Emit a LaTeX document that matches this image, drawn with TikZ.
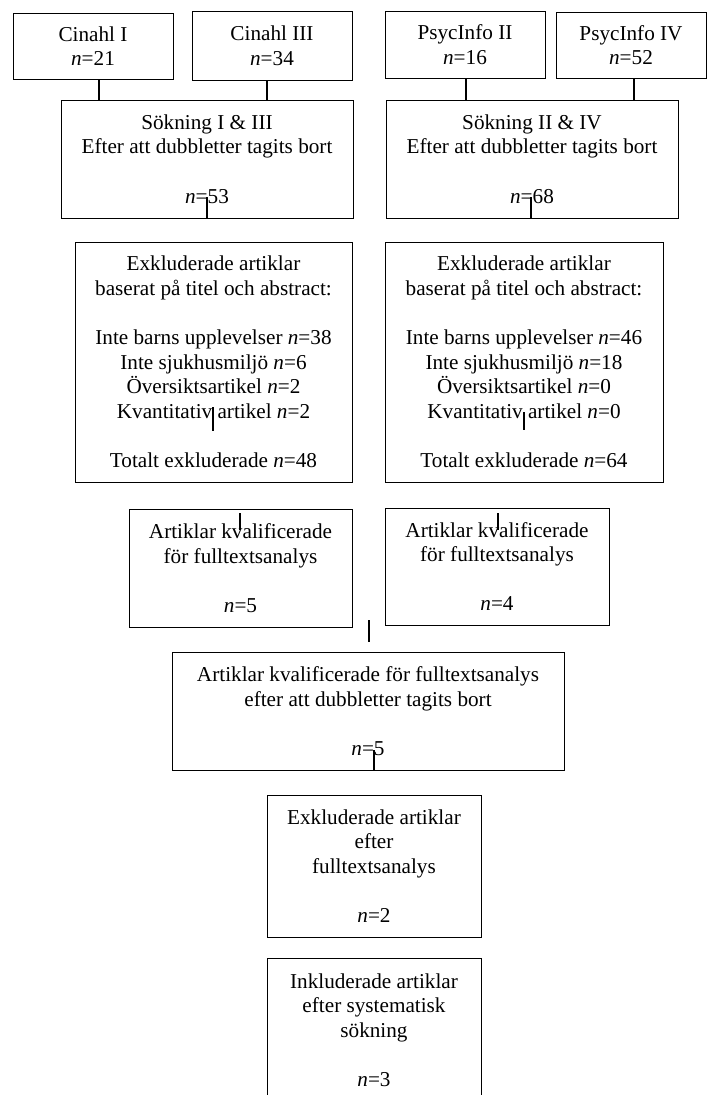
\documentclass[tikz,border=0pt]{standalone}
\usepackage{fontspec}
\setmainfont{Liberation Serif}
\usetikzlibrary{positioning, calc}

\begin{document}
\begin{tikzpicture}[x=1pt, y=1pt, node distance=179pt, auto, font=\fontsize{21.2}{24.6}\selectfont]
        % Define block styles
        \tikzstyle{block} = [rectangle, draw, line width=0.9pt, fill=white, align=center, inner sep=0pt]
        \tikzstyle{link} = [line width=1.8pt]

        \useasboundingbox (0,0) rectangle (707,-1095);

        % Place nodes
        \node [block, minimum width=160pt, minimum height=66pt] (cinahl1) at (93,-46) {Cinahl I\\\textit{n}=21};
        \node [block, minimum width=160pt, minimum height=69pt, right of=cinahl1, yshift=0.5pt] (cinahl3) {Cinahl III\\\textit{n}=34};
        \node [block, minimum width=160pt, minimum height=67pt, right of=cinahl3, xshift=14pt, yshift=1pt] (psyc2) {PsycInfo II\\\textit{n}=16};
        \node [block, minimum width=150pt, minimum height=66pt, right of=psyc2, xshift=-13pt, yshift=-0.5pt] (psyc4) {PsycInfo IV\\\textit{n}=52};
        \node [block, minimum width=292pt, minimum height=118pt, below of=cinahl1, xshift=114pt, yshift=66pt] (sok13) {S\"okning I \& III\\Efter att dubbletter tagits bort\\[24.6pt]\textit{n}=53};
        \node [block, minimum width=292pt, minimum height=118pt, right of=sok13, xshift=146pt] (sok24) {S\"okning II \& IV\\Efter att dubbletter tagits bort\\[24.6pt]\textit{n}=68};
        \node [block, minimum width=277pt, minimum height=240pt, below of=sok13, xshift=6.5pt, yshift=-24pt] (excl1) {Exkluderade artiklar\\baserat på titel och abstract:\\[24.6pt]Inte barns upplevelser \textit{n}=38\\Inte sjukhusmiljö \textit{n}=6\\Översiktsartikel \textit{n}=2\\Kvantitativ artikel \textit{n}=2\\[24.6pt]Totalt exkluderade \textit{n}=48};
        \node [block, minimum width=278pt, minimum height=240pt, right of=excl1, xshift=131.5pt] (excl2) {Exkluderade artiklar\\baserat på titel och abstract:\\[24.6pt]Inte barns upplevelser \textit{n}=46\\Inte sjukhusmiljö \textit{n}=18\\Översiktsartikel \textit{n}=0\\Kvantitativ artikel \textit{n}=0\\[24.6pt]Totalt exkluderade \textit{n}=64};
        \node [block, minimum width=223pt, minimum height=118pt, below of=excl1, xshift=27pt, yshift=-27pt] (kval1) {Artiklar kvalificerade\\för fulltextsanalys\\[24.6pt]\textit{n}=5};
        \node [block, minimum width=224pt, minimum height=117pt, right of=kval1, xshift=77.5pt, yshift=1.5pt] (kval2) {Artiklar kvalificerade\\för fulltextsanalys\\[24.6pt]\textit{n}=4};
        \node [block, minimum width=392pt, minimum height=118pt, below of=kval1, xshift=127.5pt, yshift=36pt] (kvalall) {Artiklar kvalificerade för fulltextsanalys\\efter att dubbletter tagits bort\\[24.6pt]\textit{n}=5};
        \node [block, minimum width=214pt, minimum height=142pt, below of=kvalall, xshift=6pt, yshift=24pt] (exclfull) {Exkluderade artiklar\\efter\\fulltextsanalys\\[24.6pt]\textit{n}=2};
        \node [block, minimum width=214pt, minimum height=144pt, below of=exclfull, yshift=15pt] (incl) {Inkluderade artiklar\\efter systematisk\\sökning\\[24.6pt]\textit{n}=3};

        % Draw connections
        \draw [link] ([xshift=6pt]cinahl1.south) -- ([xshift=6pt]cinahl1.south |- sok13.north);
        \draw [link] ([xshift=-5pt]cinahl3.south) -- ([xshift=-5pt]cinahl3.south |- sok13.north);
        \draw [link] ([xshift=1pt]psyc2.south) -- ([xshift=1pt]psyc2.south |- sok24.north);
        \draw [link] ([xshift=3pt]psyc4.south) -- ([xshift=3pt]psyc4.south |- sok24.north);

        % Leftover pieces of lines
        \coordinate (cut13) at (207,-197);
        \coordinate (cut24a) at (531,-197);
        \coordinate (cut24b) at (531,-218);
        \coordinate (cutex1a) at (213,-407);
        \coordinate (cutex1b) at (213,-431);
        \coordinate (cutex2a) at (524,-412);
        \coordinate (cutex2b) at (524,-430);
        \coordinate (cutkv1a) at (240,-513);
        \coordinate (cutkv1b) at (240,-530);
        \coordinate (cutkv2a) at (498,-513);
        \coordinate (cutkv2b) at (498,-530);
        \coordinate (cutgapa) at (369,-620);
        \coordinate (cutgapb) at (369,-642);
        \coordinate (cutalla) at (374,-750);
        \coordinate (cutallb) at (374,-770);
        \draw [link] (cut13) -- (sok13.south);
        \draw [link] (cut24a) -- (cut24b);
        \draw [link] (cutex1a) -- (cutex1b);
        \draw [link] (cutex2a) -- (cutex2b);
        \draw [link] (cutkv1a) -- (cutkv1b);
        \draw [link] (cutkv2a) -- (cutkv2b);
        \draw [link] (cutgapa) -- (cutgapb);
        \draw [link] (cutalla) -- (cutallb);

    \end{tikzpicture}
\end{document}
